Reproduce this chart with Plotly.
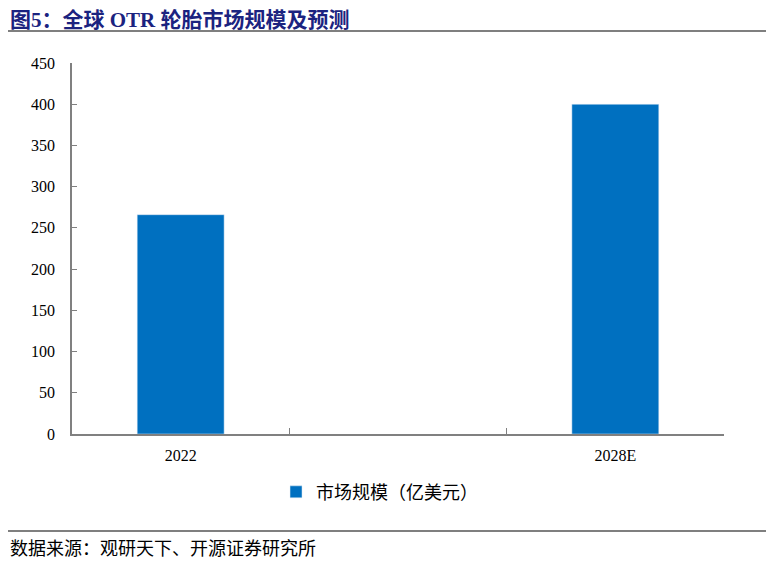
import plotly.graph_objects as go

# data
categories = ["2022", " ", "2028E"]
market_size = [266, None, 400]
series_name = "市场规模（亿美元）"
y_ticks = [0, 50, 100, 150, 200, 250, 300, 350, 400, 450]

title_text = "图5：全球 OTR 轮胎市场规模及预测"
source_text = "数据来源：观研天下、开源证券研究所"

serif = "Liberation Serif, Times New Roman, Noto Sans CJK SC"
cjk = "Noto Sans CJK SC"

fig = go.Figure()
fig.add_trace(go.Bar(x=categories, y=market_size, name=series_name,
                     marker_color="#0070C0", showlegend=True))

# page has an 8px body margin, so the figure is shifted up/left by 8px
fig.update_layout(
    width=774, height=561,
    margin=dict(l=64, r=58, t=55, b=135, autoexpand=False),
    plot_bgcolor="white", paper_bgcolor="white",
    bargap=0.6,
    font=dict(family=serif, size=16, color="black"),
    showlegend=True,
    legend=dict(orientation="h", x=0.48, xref="container", xanchor="center",
                y=0.137, yref="container", yanchor="middle", itemwidth=30,
                font=dict(family=cjk, size=18, color="black")),
)

fig.update_xaxes(type="category", showline=True, linecolor="#808080", linewidth=1.5,
                 ticks="inside", tickson="boundaries", ticklen=6, tickcolor="#808080",
                 showgrid=False, ticklabelstandoff=6,
                 tickfont=dict(family=serif, size=16))
fig.update_yaxes(range=[0, 450], tickvals=y_ticks, showline=True, linecolor="#808080",
                 linewidth=1.5, ticks="inside", ticklen=5, tickcolor="#808080",
                 showgrid=False, zeroline=False, ticklabelstandoff=12,
                 tickfont=dict(family=serif, size=16))

# title and source with rules
fig.add_annotation(text="<b>" + title_text + "</b>", xref="paper", yref="paper",
                   x=-64 / 652, y=1 + 43 / 371, xanchor="left", yanchor="middle",
                   showarrow=False, font=dict(family=serif, size=21, color="#1B2380"))
fig.add_annotation(text=source_text, xref="paper", yref="paper",
                   x=-64 / 652, y=-113 / 371, xanchor="left", yanchor="middle",
                   showarrow=False, font=dict(family=cjk, size=18, color="black"))
fig.add_shape(type="line", xref="paper", yref="paper",
              x0=-67 / 652, x1=697 / 652, y0=1 + 32 / 371, y1=1 + 32 / 371,
              line=dict(color="black", width=1.2))
fig.add_shape(type="line", xref="paper", yref="paper",
              x0=-67 / 652, x1=697 / 652, y0=-97 / 371, y1=-97 / 371,
              line=dict(color="black", width=1.2))

fig.write_html("out.html")
